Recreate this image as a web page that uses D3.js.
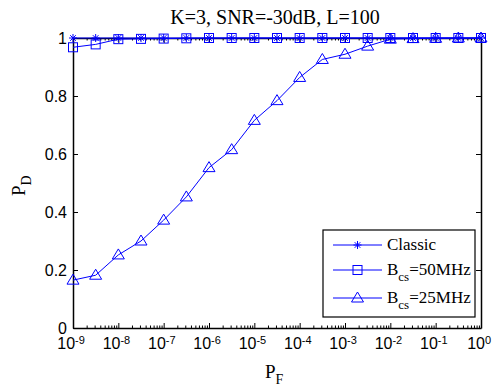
<!DOCTYPE html>
<html>
<head>
<meta charset="utf-8">
<script src="https://cdn.jsdelivr.net/npm/d3@7"></script>
<style>
  body { margin: 0; background: #fff; }
  svg { display: block; }
  .serif { font-family: "Liberation Serif", "Times New Roman", Times, serif; }
  .sans { font-family: "Liberation Sans", Arial, Helvetica, sans-serif; }
</style>
</head>
<body>
<svg id="chart"></svg>
<script>
// data (x = P_F, one point every half decade)
const pfExp = [-9, -8.5, -8, -7.5, -7, -6.5, -6, -5.5, -5, -4.5, -4, -3.5, -3, -2.5, -2, -1.5, -1, -0.5, 0];
const classic = [1, 1, 1, 1, 1, 1, 1, 1, 1, 1, 1, 1, 1, 1, 1, 1, 1, 1, 1];
const bcs50 = [0.968, 0.978, 0.996, 0.997, 0.998, 0.999, 1, 1, 1, 1, 1, 1, 1, 1, 1, 1, 1, 1, 1];
const bcs25 = [0.165, 0.182, 0.252, 0.3, 0.372, 0.452, 0.553, 0.615, 0.716, 0.784, 0.864, 0.926, 0.944, 0.972, 0.996, 0.998, 0.999, 1, 1];
const xTickExp = [-9, -8, -7, -6, -5, -4, -3, -2, -1, 0];
const yTicks = [0, 0.2, 0.4, 0.6, 0.8, 1];

const W = 492, H = 388;
const plotL = 73, plotR = 481, plotT = 38, plotB = 328;
const blue = "#0000ff";

const svg = d3.select("#chart").attr("width", W).attr("height", H);

const x = d3.scaleLog().domain([1e-9, 1]).range([plotL, plotR]);
const y = d3.scaleLinear().domain([0, 1]).range([plotB, plotT]);

const majorX = xTickExp.map(e => Math.pow(10, e));
const minorX = [];
xTickExp.slice(0, -1).forEach(e => {
    for (let m = 2; m <= 9; m++) minorX.push(m * Math.pow(10, e));
});

// axes (box with inward ticks on every side)
function styleAxis(g) {
    g.select(".domain").attr("stroke", "#000").attr("stroke-width", 1.5);
    g.selectAll(".tick line").attr("stroke", "#000").attr("stroke-width", 1);
}

const gx = svg.append("g").attr("transform", `translate(0,${plotB})`)
    .call(d3.axisBottom(x).tickValues(majorX).tickSizeInner(-5).tickSizeOuter(0).tickPadding(10).tickFormat(""))
    .call(styleAxis);
gx.attr("font-family", null).attr("font-size", null);
gx.selectAll(".tick text").each(function(d) {
    const t = d3.select(this)
        .attr("class", "sans")
        .attr("font-size", 16).attr("fill", "#000")
        .attr("dy", "0.71em").attr("dx", "-0.15em");
    t.append("tspan").text("10");
    t.append("tspan").attr("dy", "-0.5em").attr("font-size", 11).text(Math.round(Math.log10(d)));
});
svg.append("g").attr("transform", `translate(0,${plotB})`)
    .call(d3.axisBottom(x).tickValues(minorX).tickSizeInner(-2.5).tickSizeOuter(0).tickFormat(""))
    .call(g => g.select(".domain").remove())
    .call(styleAxis);

svg.append("g").attr("transform", `translate(0,${plotT})`)
    .call(d3.axisTop(x).tickValues(majorX).tickSizeInner(-5).tickSizeOuter(0).tickFormat(""))
    .call(styleAxis);
svg.append("g").attr("transform", `translate(0,${plotT})`)
    .call(d3.axisTop(x).tickValues(minorX).tickSizeInner(-2.5).tickSizeOuter(0).tickFormat(""))
    .call(g => g.select(".domain").remove())
    .call(styleAxis);

svg.append("g").attr("transform", `translate(${plotL},0)`)
    .call(d3.axisLeft(y).tickValues(yTicks).tickSizeInner(-5).tickSizeOuter(0).tickPadding(6).tickFormat(d3.format("")))
    .call(styleAxis)
    .call(g => g.attr("font-family", null).attr("font-size", null))
    .call(g => g.selectAll(".tick text")
        .attr("class", "sans")
        .attr("font-size", 16).attr("fill", "#000"));

svg.append("g").attr("transform", `translate(${plotR},0)`)
    .call(d3.axisRight(y).tickValues(yTicks).tickSizeInner(-5).tickSizeOuter(0).tickFormat(""))
    .call(styleAxis);

// series
const series = [
    { name: "Classic", values: classic, marker: "star" },
    { name: "50MHz", values: bcs50, marker: "square" },
    { name: "25MHz", values: bcs25, marker: "triangle" }
];

const line = d3.line()
    .x(d => x(Math.pow(10, d.e)))
    .y(d => y(d.v));

function drawMarker(g, type, cx, cy) {
    if (type === "star") {
        const r = 4;
        g.append("path")
            .attr("d", `M${cx - r},${cy}H${cx + r}M${cx},${cy - r}V${cy + r}` +
                `M${cx - r * 0.7},${cy - r * 0.7}L${cx + r * 0.7},${cy + r * 0.7}` +
                `M${cx - r * 0.7},${cy + r * 0.7}L${cx + r * 0.7},${cy - r * 0.7}`)
            .attr("stroke", blue).attr("stroke-width", 1).attr("fill", "none");
    } else if (type === "square") {
        g.append("rect").attr("x", cx - 4.5).attr("y", cy - 4.5)
            .attr("width", 9).attr("height", 9)
            .attr("stroke", blue).attr("stroke-width", 1).attr("fill", "none");
    } else {
        g.append("path")
            .attr("d", `M${cx},${cy - 6}L${cx + 6},${cy + 4}L${cx - 6},${cy + 4}Z`)
            .attr("stroke", blue).attr("stroke-width", 1).attr("fill", "none");
    }
}

series.slice().reverse().forEach(s => {
    const pts = pfExp.map((e, i) => ({ e: e, v: s.values[i] }));
    const g = svg.append("g");
    g.append("path").datum(pts).attr("d", line)
        .attr("fill", "none").attr("stroke", blue).attr("stroke-width", 1);
    pts.forEach(p => drawMarker(g, s.marker, x(Math.pow(10, p.e)), y(p.v)));
});

// title and axis labels
svg.append("text")
    .attr("class", "serif")
    .attr("x", 275).attr("y", 24)
    .attr("text-anchor", "middle")
    .attr("font-size", 20)
    .text("K=3, SNR=-30dB, L=100");

const xl = svg.append("text")
    .attr("class", "serif")
    .attr("x", 265).attr("y", 378)
    .attr("font-size", 19);
xl.append("tspan").text("P");
xl.append("tspan").attr("dy", 6).attr("font-size", 14).text("F");

const yl = svg.append("text")
    .attr("class", "serif")
    .attr("transform", "translate(25,196) rotate(-90)")
    .attr("font-size", 19);
yl.append("tspan").text("P");
yl.append("tspan").attr("dy", 6).attr("font-size", 14).text("D");

// legend
const lg = svg.append("g");
lg.append("rect").attr("x", 323).attr("y", 230).attr("width", 152).attr("height", 87)
    .attr("fill", "#fff").attr("stroke", "#000").attr("stroke-width", 1.2);
const legendY = [245, 270, 298];
series.forEach((s, i) => {
    const ly = legendY[i];
    lg.append("line").attr("x1", 333).attr("x2", 382).attr("y1", ly).attr("y2", ly)
        .attr("stroke", blue).attr("stroke-width", 1);
    drawMarker(lg, s.marker, 357.5, ly);
    const t = lg.append("text").attr("class", "serif")
        .attr("x", 387).attr("y", ly + 5)
        .attr("font-size", 17);
    if (i === 0) {
        t.text(s.name);
    } else {
        t.append("tspan").text("B");
        t.append("tspan").attr("dy", 6).attr("font-size", 13).text("cs");
        t.append("tspan").attr("dy", -6).text("=" + s.name);
    }
});
</script>
</body>
</html>
